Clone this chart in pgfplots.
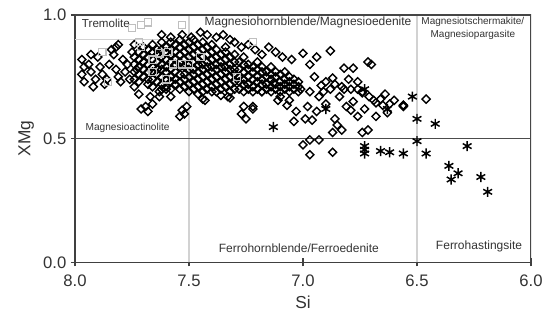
\documentclass[border=0pt]{standalone}
\usepackage{fontspec}
\setmainfont{Liberation Sans}
\usepackage{pgfplots}
\usepackage{pgfplotstable}
\pgfplotsset{compat=1.18}

\pgfplotstableread{
Si XMg
7.97 0.82
7.96 0.79
7.97 0.76
7.96 0.73
7.94 0.80
7.93 0.77
7.92 0.71
7.90 0.83
7.89 0.79
7.88 0.76
7.86 0.74
7.85 0.80
7.84 0.86
7.83 0.84
7.82 0.87
7.82 0.78
7.81 0.75
7.80 0.73
7.79 0.82
7.78 0.77
7.77 0.80
7.76 0.74
7.75 0.85
7.74 0.71
7.73 0.78
7.72 0.68
7.74 0.88
7.93 0.84
7.87 0.72
7.91 0.74
7.81 0.88
7.71 0.62
7.69 0.63
7.68 0.61
7.66 0.64
7.67 0.67
7.53 0.615
7.54 0.59
7.58 0.67
7.63 0.67
7.44 0.66
7.46 0.68
7.63 0.69
7.60 0.70
7.40 0.69
7.33 0.67
7.51 0.63
7.52 0.60
7.43 0.655
7.36 0.675
7.32 0.665
7.26 0.63
7.22 0.62
7.27 0.60
7.25 0.58
7.11 0.655
7.07 0.635
7.03 0.61
7.74 0.74
7.74 0.77
7.74 0.80
7.74 0.83
7.72 0.73
7.72 0.76
7.72 0.79
7.72 0.82
7.72 0.85
7.70 0.75
7.70 0.78
7.70 0.81
7.70 0.84
7.70 0.87
7.68 0.72
7.68 0.74
7.68 0.77
7.68 0.80
7.68 0.83
7.68 0.86
7.66 0.71
7.66 0.74
7.66 0.77
7.66 0.79
7.66 0.82
7.66 0.85
7.66 0.88
7.64 0.73
7.64 0.76
7.64 0.78
7.64 0.81
7.64 0.84
7.64 0.86
7.62 0.70
7.62 0.72
7.62 0.75
7.62 0.78
7.62 0.80
7.62 0.83
7.62 0.86
7.62 0.89
7.60 0.71
7.60 0.74
7.60 0.77
7.60 0.79
7.60 0.82
7.60 0.85
7.60 0.87
7.58 0.70
7.58 0.73
7.58 0.75
7.58 0.78
7.58 0.81
7.58 0.84
7.58 0.86
7.58 0.89
7.56 0.72
7.56 0.74
7.56 0.77
7.56 0.80
7.56 0.82
7.56 0.85
7.56 0.88
7.54 0.70
7.54 0.73
7.54 0.76
7.54 0.79
7.54 0.81
7.54 0.84
7.54 0.87
7.54 0.90
7.52 0.71
7.52 0.74
7.52 0.76
7.52 0.79
7.52 0.82
7.52 0.85
7.52 0.88
7.50 0.69
7.50 0.72
7.50 0.75
7.50 0.78
7.50 0.80
7.50 0.83
7.50 0.86
7.50 0.89
7.48 0.70
7.48 0.73
7.48 0.76
7.48 0.78
7.48 0.81
7.48 0.84
7.48 0.87
7.48 0.90
7.46 0.71
7.46 0.74
7.46 0.77
7.46 0.80
7.46 0.82
7.46 0.85
7.46 0.88
7.44 0.69
7.44 0.72
7.44 0.75
7.44 0.78
7.44 0.80
7.44 0.83
7.44 0.86
7.44 0.89
7.42 0.70
7.42 0.73
7.42 0.76
7.42 0.79
7.42 0.81
7.42 0.84
7.42 0.87
7.40 0.71
7.40 0.74
7.40 0.77
7.40 0.79
7.40 0.82
7.40 0.85
7.40 0.88
7.38 0.69
7.38 0.72
7.38 0.75
7.38 0.78
7.38 0.80
7.38 0.83
7.38 0.86
7.36 0.70
7.36 0.73
7.36 0.76
7.36 0.79
7.36 0.81
7.36 0.84
7.34 0.71
7.34 0.74
7.34 0.77
7.34 0.79
7.34 0.82
7.34 0.85
7.34 0.87
7.32 0.69
7.32 0.72
7.32 0.75
7.32 0.78
7.32 0.80
7.32 0.83
7.30 0.70
7.30 0.73
7.30 0.76
7.30 0.78
7.30 0.81
7.30 0.84
7.28 0.70
7.28 0.73
7.28 0.75
7.28 0.78
7.28 0.81
7.26 0.69
7.26 0.72
7.26 0.74
7.26 0.77
7.26 0.80
7.26 0.83
7.24 0.70
7.24 0.72
7.24 0.75
7.24 0.78
7.24 0.80
7.22 0.69
7.22 0.71
7.22 0.74
7.22 0.77
7.22 0.79
7.20 0.70
7.20 0.73
7.20 0.75
7.20 0.78
7.20 0.81
7.18 0.69
7.18 0.72
7.18 0.74
7.18 0.77
7.18 0.79
7.16 0.70
7.16 0.72
7.16 0.75
7.16 0.77
7.14 0.69
7.14 0.71
7.14 0.74
7.14 0.76
7.14 0.79
7.12 0.70
7.12 0.72
7.12 0.75
7.12 0.77
7.10 0.69
7.10 0.71
7.10 0.73
7.10 0.76
7.08 0.70
7.08 0.72
7.08 0.74
7.08 0.77
7.06 0.69
7.06 0.71
7.06 0.73
7.06 0.75
7.04 0.70
7.04 0.72
7.04 0.74
7.02 0.69
7.02 0.71
7.02 0.73
7.53 0.92
7.49 0.91
7.45 0.93
7.42 0.92
7.38 0.91
7.35 0.92
7.32 0.90
7.30 0.89
7.27 0.87
7.24 0.88
7.21 0.86
7.18 0.84
7.15 0.87
7.12 0.85
7.09 0.83
7.05 0.82
7.00 0.845
6.94 0.83
6.88 0.855
6.97 0.80
7.58 0.91
7.62 0.92
6.82 0.785
6.78 0.785
6.715 0.81
6.70 0.80
6.87 0.745
6.80 0.74
6.76 0.73
6.69 0.655
6.60 0.655
6.56 0.635
6.46 0.66
6.68 0.59
6.76 0.59
6.81 0.63
6.86 0.58
6.85 0.555
6.99 0.58
6.96 0.575
7.04 0.57
6.74 0.525
6.715 0.535
7.22 0.63
7.13 0.725
7.18 0.69
7.10 0.67
7.06 0.655
7.01 0.70
6.93 0.67
6.88 0.70
6.84 0.67
6.98 0.63
6.92 0.715
6.90 0.73
6.86 0.72
6.83 0.71
6.79 0.70
6.74 0.69
6.71 0.67
6.66 0.66
6.64 0.68
6.62 0.64
6.73 0.62
6.78 0.65
6.95 0.75
6.97 0.69
6.91 0.69
6.94 0.61
6.90 0.64
6.82 0.70
6.76 0.70
6.74 0.685
6.68 0.645
6.65 0.635
6.56 0.63
6.63 0.605
6.87 0.525
6.83 0.535
6.79 0.615
7.00 0.475
6.97 0.495
6.93 0.495
6.97 0.435
6.87 0.445
6.56 0.635
}\diamonds

\pgfplotstableread{
Si XMg
7.75 0.947
7.71 0.96
7.68 0.97
7.53 0.96
7.88 0.85
7.855 0.73
7.72 0.89
7.71 0.87
7.66 0.82
7.63 0.845
7.59 0.85
7.57 0.80
7.53 0.80
7.50 0.80
7.45 0.83
7.66 0.77
7.60 0.74
7.29 0.75
7.22 0.89
}\squares

\pgfplotstableread{
Si XMg
7.13 0.547
6.90 0.62
6.73 0.70
6.63 0.62
6.52 0.67
6.50 0.58
6.42 0.56
6.73 0.47
6.73 0.455
6.73 0.44
6.66 0.45
6.62 0.445
6.56 0.44
6.50 0.49
6.46 0.44
6.28 0.47
6.36 0.39
6.32 0.36
6.35 0.335
6.22 0.345
6.19 0.285
}\asterisks

\begin{document}
\begin{tikzpicture}
\begin{axis}[
  scale only axis, width=342pt, height=185.5pt,
  x dir=reverse, xmin=6, xmax=8, ymin=0, ymax=1,
  xtick={6,6.5,7,7.5,8}, ytick={0,0.5,1},
  /pgf/number format/assume math mode=true,
  /pgf/number format/fixed,
  /pgf/number format/fixed zerofill,
  /pgf/number format/precision=1,
  xticklabel style={yshift=-3pt},
  tick label style={font=\fontsize{12.5}{14}\selectfont, text=black!80},
  label style={font=\fontsize{13}{15}\selectfont, text=black!80},
  xlabel={Si}, ylabel={XMg},
  axis line style={gray!50!black, line width=1pt},
  tick style={gray!50!black, line width=1pt},
  tick align=center, major tick length=6pt,
  axis x line*=bottom, axis y line*=left,
]
\addplot[gray!35, line width=0.9pt] coordinates {(7.5,0) (7.5,1)};
\addplot[gray!35, line width=0.9pt] coordinates {(6.5,0) (6.5,1)};
\addplot[gray!35, line width=0.9pt] coordinates {(8,0.9) (7.5,0.9)};
\addplot[gray!60!black, line width=1.2pt] coordinates {(8,0.5) (6,0.5)};
\addplot[gray!55!black, line width=1pt] coordinates {(8,1) (6,1) (6,0)};

\addplot[only marks, mark=square, mark size=2.15pt, black, line width=1.05pt,
  mark options={rotate=45}] table[x=Si, y=XMg] {\diamonds};
\addplot[only marks, mark=square, mark size=2.7pt, gray!50, line width=0.9pt]
  table[x=Si, y=XMg] {\squares};
\addplot[only marks, mark=asterisk, mark size=3.8pt, black, line width=1.1pt]
  table[x=Si, y=XMg] {\asterisks};

\node[anchor=west, font=\fontsize{8.7}{10}\selectfont, text=black!80] at (axis cs:7.99,0.968) {Tremolite};
\node[font=\fontsize{9}{10}\selectfont, text=black!80] at (axis cs:6.978,0.972) {Magnesiohornblende/Magnesioedenite};
\node[align=center, font=\fontsize{7.5}{9.5}\selectfont, text=black!80] at (axis cs:6.255,0.945) {Magnesiotschermakite/\\Magnesiopargasite};
\node[anchor=west, font=\fontsize{7.6}{9}\selectfont, text=black!80] at (axis cs:7.974,0.543) {Magnesioactinolite};
\node[font=\fontsize{9}{10}\selectfont, text=black!80] at (axis cs:7.018,0.057) {Ferrohornblende/Ferroedenite};
\node[font=\fontsize{9}{10}\selectfont, text=black!80] at (axis cs:6.228,0.065) {Ferrohastingsite};

\coordinate (SW) at (rel axis cs:0,0);
\coordinate (NE) at (rel axis cs:1,1);
\end{axis}
\pgfresetboundingbox
\path ([shift={(-56.25pt,-46.5pt)}]SW) rectangle ([shift={(9.75pt,11.25pt)}]NE);
\end{tikzpicture}
\end{document}
